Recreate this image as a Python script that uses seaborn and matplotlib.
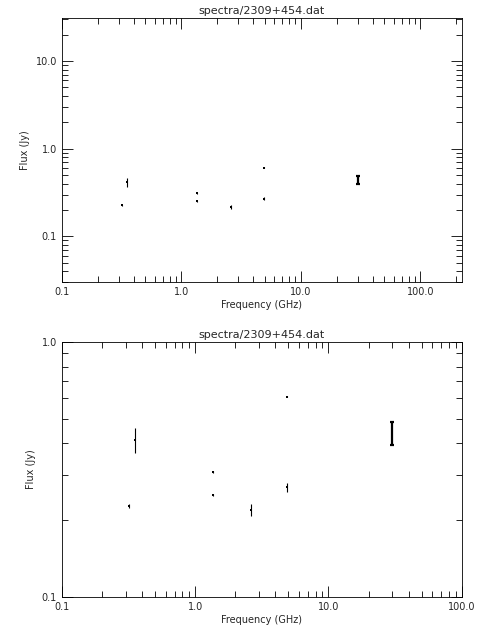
import numpy as np
import pandas as pd
import matplotlib
matplotlib.use('Agg')
import matplotlib.pyplot as plt
import seaborn as sns
from matplotlib.ticker import FixedLocator, FixedFormatter, LogLocator, NullFormatter

freq = [0.318, 0.353, 1.36, 1.36, 2.62, 4.87, 4.87, 29.9]
flux = [0.227, 0.413, 0.309, 0.251, 0.219, 0.61, 0.27, 0.44]
err = [0.004, 0.045, 0.003, 0.003, 0.012, 0.004, 0.011, 0.047]
title = 'spectra/2309+454.dat'

df = pd.DataFrame({'freq': freq, 'flux': flux, 'err': err})
plain = df[df['freq'] < 20]
capped = df[df['freq'] >= 20]

sns.set_style('ticks')
plt.rcParams['font.family'] = ['DejaVu Sans']
fig = plt.figure(figsize=(4.8, 6.4), dpi=100)
ax1 = fig.add_axes([0.129, 0.559, 0.833, 0.413])
ax2 = fig.add_axes([0.129, 0.067, 0.833, 0.399])


def style(ax, xlim, ylim, xt, yt):
    ax.set_xscale('log')
    ax.set_yscale('log')
    ax.set_xlim(*xlim)
    ax.set_ylim(*ylim)
    ax.xaxis.set_major_locator(FixedLocator(xt))
    ax.xaxis.set_major_formatter(FixedFormatter([f'{v:.1f}' for v in xt]))
    ax.yaxis.set_major_locator(FixedLocator(yt))
    ax.yaxis.set_major_formatter(FixedFormatter([f'{v:.1f}' for v in yt]))
    ax.xaxis.set_minor_locator(LogLocator(subs=np.arange(2, 10)))
    ax.yaxis.set_minor_locator(LogLocator(subs=np.arange(2, 10)))
    ax.xaxis.set_minor_formatter(NullFormatter())
    ax.yaxis.set_minor_formatter(NullFormatter())
    ax.tick_params(which='both', direction='in', top=True, right=True,
                   labelsize=7, width=0.6, color='black')
    ax.tick_params(which='major', length=8)
    ax.tick_params(which='minor', length=4)
    for s in ax.spines.values():
        s.set_linewidth(0.6)
        s.set_color('black')
    ax.set_xlabel('Frequency (GHz)', fontsize=7, labelpad=2)
    ax.set_ylabel('Flux (Jy)', fontsize=7)
    ax.set_title(title, fontsize=8, pad=3)


for ax in (ax1, ax2):
    ax.errorbar(plain['freq'], plain['flux'], yerr=plain['err'], fmt='none',
                ecolor='black', elinewidth=0.8, capsize=0)
    ax.errorbar(capped['freq'], capped['flux'], yerr=capped['err'], fmt='none',
                ecolor='black', elinewidth=1.6, capsize=1.5, capthick=1.6)
    sns.scatterplot(data=df, x='freq', y='flux', ax=ax, color='black',
                    s=3, marker='s', edgecolor='black', linewidth=0)

style(ax1, (0.1, 222), (0.03, 31), [0.1, 1.0, 10.0, 100.0], [0.1, 1.0, 10.0])
style(ax2, (0.1, 100), (0.1, 1.0), [0.1, 1.0, 10.0, 100.0], [0.1, 1.0])

fig.savefig('out.png', dpi=100)
